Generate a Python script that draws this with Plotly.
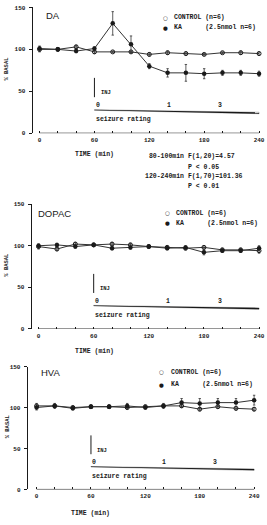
import plotly.graph_objects as go

W, H = 267, 525

time_min = [0, 20, 40, 60, 80, 100, 120, 140, 160, 180, 200, 220, 240]
x_ticks = [0, 60, 120, 180, 240]
y_ticks = [0, 50, 100, 150]

da_control = [100, 100, 103, 97, 97, 97, 94, 96, 95, 94, 96, 96, 95]
da_control_err = [3, 2, 2, 2, 1, 1, 2, 2, 2, 1, 1, 2, 2]
da_ka = [101, 100, 98, 101, 131, 106, 80, 72, 72, 71, 72, 72, 71]
da_ka_err = [3, 2, 2, 2, 14, 10, 3, 5, 10, 6, 3, 3, 3]

dopac_control = [99, 96, 102, 101, 102, 101, 99, 98, 97, 98, 95, 95, 94]
dopac_control_err = [3, 2, 2, 2, 2, 2, 2, 2, 2, 2, 2, 2, 3]
dopac_ka = [100, 101, 99, 101, 97, 98, 99, 97, 98, 92, 94, 94, 97]
dopac_ka_err = [2, 2, 2, 2, 2, 2, 2, 2, 2, 3, 2, 2, 3]

hva_control = [102, 102, 100, 101, 101, 100, 101, 102, 102, 98, 101, 99, 98]
hva_control_err = [3, 2, 2, 2, 2, 2, 2, 2, 2, 2, 2, 2, 2]
hva_ka = [100, 102, 99, 101, 101, 102, 100, 102, 106, 105, 106, 106, 109]
hva_ka_err = [3, 3, 2, 2, 2, 3, 2, 3, 5, 6, 5, 5, 6]

panel_names = ["DA", "DOPAC", "HVA"]
legend_control = "CONTROL\u00a0(n=6)"
legend_ka = "KA\u00a0\u00a0\u00a0\u00a0\u00a0\u00a0(2.5nmol\u00a0n=6)"
stats_lines = ["\u00a080-100min\u00a0F(1,20)=4.57",
               "\u00a0" * 11 + "P\u00a0<\u00a00.05",
               "120-240min\u00a0F(1,70)=101.36",
               "\u00a0" * 11 + "P\u00a0<\u00a00.01"]

INK = "#1a1a1a"
MONO = dict(family="Liberation Mono", color=INK, weight="bold")


def px_x(p):
    return p / W


def px_y(p):
    return 1 - p / H


# panel geometry in pixels: y-axis x, x0 pixel (t=0), x240 pixel, y0 pixel (v=0), y150 pixel
panels = [
    dict(ax=33, x0=40, x240=262, y0=132, y150=4.5),
    dict(ax=32, x0=39, x240=262, y0=330, y150=204),
    dict(ax=28, x0=37, x240=257, y0=493, y150=368.5),
]
series = [
    (da_control, da_control_err, da_ka, da_ka_err),
    (dopac_control, dopac_control_err, dopac_ka, dopac_ka_err),
    (hva_control, hva_control_err, hva_ka, hva_ka_err),
]
label_pos = [(45, 13), (36, 213), (39, 374)]
legend_pos = [(167, 15, 25, 174), (169, 213, 223, 176), (163, 374, 387, 171)]
time_title_pos = [(96, 154), (96, 353), (92, 517)]

fig = go.Figure()
annotations = []
shapes = []

for i, (p, s) in enumerate(zip(panels, series)):
    n = "" if i == 0 else str(i + 1)
    xa, ya = "x" + n, "y" + n
    ctrl, ctrl_err, ka, ka_err = s
    k = (p["x240"] - p["x0"]) / 240.0
    right_px = p["x240"] + 3
    xr = [-(p["x0"] - p["ax"]) / k, 240 + (right_px - p["x240"]) / k]
    fig.update_layout(**{
        "xaxis" + n: dict(domain=[px_x(p["ax"]), px_x(right_px)], range=xr, anchor=ya,
                          showline=False, showgrid=False, zeroline=False,
                          tickvals=x_ticks, ticks="inside", ticklen=2, tickcolor=INK,
                          minor=dict(tickvals=time_min, ticks="inside", ticklen=2, tickcolor=INK),
                          tickfont=dict(size=6, **MONO), ticklabelstandoff=2),
        "yaxis" + n: dict(domain=[px_y(p["y0"]), px_y(p["y150"])], range=[0, 150], anchor=xa,
                          showline=True, linecolor=INK, linewidth=1, showgrid=False, zeroline=False,
                          tickvals=y_ticks, ticks="outside", ticklen=3, tickcolor=INK,
                          tickfont=dict(size=6, **MONO), ticklabelstandoff=2),
    })
    fig.add_trace(go.Scatter(x=time_min, y=ctrl, mode="lines+markers", xaxis=xa, yaxis=ya,
                             line=dict(color="#333", width=1),
                             marker=dict(symbol="circle-open", size=4, color=INK, line=dict(width=1)),
                             error_y=dict(type="data", array=ctrl_err, color="#333", thickness=0.8, width=1.2),
                             showlegend=False))
    fig.add_trace(go.Scatter(x=time_min, y=ka, mode="lines+markers", xaxis=xa, yaxis=ya,
                             line=dict(color="#333", width=1),
                             marker=dict(symbol="circle", size=4.5, color=INK),
                             error_y=dict(type="data", array=ka_err, color="#333", thickness=0.8, width=1.2),
                             showlegend=False))
    # x axis baseline
    shapes.append(dict(type="line", xref=xa, yref=ya, x0=0, x1=240, y0=0, y1=0,
                       line=dict(color=INK, width=1)))
    # injection marker
    shapes.append(dict(type="line", xref=xa, yref=ya, x0=60, x1=60, y0=66, y1=43,
                       line=dict(color=INK, width=1)))
    # seizure rating wedge
    shapes.append(dict(type="path", xref=xa, yref=ya, path="M 60,28 L 240,25 L 240,23.3 L 60,27.4 Z",
                       fillcolor=INK, line=dict(color=INK, width=0.3)))
    annotations += [
        dict(text="INJ", x=65, y=48, xref=xa, yref=ya, xanchor="left", yanchor="middle",
             showarrow=False, font=dict(size=5.5, **MONO)),
        dict(text="0", x=59, y=33, xref=xa, yref=ya, xanchor="left", yanchor="middle",
             showarrow=False, font=dict(size=6.5, **MONO)),
        dict(text="1", x=141, y=33, xref=xa, yref=ya, xanchor="center", yanchor="middle",
             showarrow=False, font=dict(size=6.5, **MONO)),
        dict(text="3", x=197, y=33, xref=xa, yref=ya, xanchor="center", yanchor="middle",
             showarrow=False, font=dict(size=6.5, **MONO)),
        dict(text="seizure\u00a0rating", x=59, y=16, xref=xa, yref=ya, xanchor="left",
             yanchor="middle", showarrow=False, font=dict(size=6.5, **MONO)),
        dict(text="%\u00a0BASAL", x=px_x(7), y=77, xref="paper", yref=ya, textangle=-90,
             xanchor="center", yanchor="middle", showarrow=False, font=dict(size=5.5, **MONO)),
    ]
    lx, ly = label_pos[i]
    annotations.append(dict(text=panel_names[i], x=px_x(lx), y=px_y(ly), xref="paper", yref="paper",
                            xanchor="left", yanchor="middle", showarrow=False,
                            font=dict(family="Liberation Sans", size=9.5, color=INK)))
    sx, sy1, sy2, tx = legend_pos[i]
    annotations += [
        dict(text="\u25cb", x=px_x(sx), y=px_y(sy1), xref="paper", yref="paper", xanchor="center",
             yanchor="middle", showarrow=False, font=dict(family="DejaVu Sans", size=5.5, color=INK)),
        dict(text="\u25cf", x=px_x(sx), y=px_y(sy2), xref="paper", yref="paper", xanchor="center",
             yanchor="middle", showarrow=False, font=dict(family="DejaVu Sans", size=5.5, color=INK)),
        dict(text=legend_control, x=px_x(tx), y=px_y(sy1), xref="paper", yref="paper", xanchor="left",
             yanchor="middle", showarrow=False, font=dict(size=6.5, **MONO)),
        dict(text=legend_ka, x=px_x(tx), y=px_y(sy2), xref="paper", yref="paper", xanchor="left",
             yanchor="middle", showarrow=False, font=dict(size=6.5, **MONO)),
    ]
    tx_, ty_ = time_title_pos[i]
    annotations.append(dict(text="TIME\u00a0(min)", x=px_x(tx_), y=px_y(ty_), xref="paper", yref="paper",
                            xanchor="center", yanchor="middle", showarrow=False,
                            font=dict(size=6.5, **MONO)))

for line, ypx in zip(stats_lines, [155.5, 166.5, 175.5, 185.5]):
    annotations.append(dict(text=line, x=px_x(145), y=px_y(ypx), xref="paper", yref="paper",
                            xanchor="left", yanchor="middle", showarrow=False,
                            font=dict(size=6.5, **MONO)))

fig.update_layout(width=W, height=H, margin=dict(l=0, r=0, t=0, b=0),
                  paper_bgcolor="white", plot_bgcolor="white",
                  annotations=annotations, shapes=shapes, showlegend=False)

fig.write_html("out.html")
